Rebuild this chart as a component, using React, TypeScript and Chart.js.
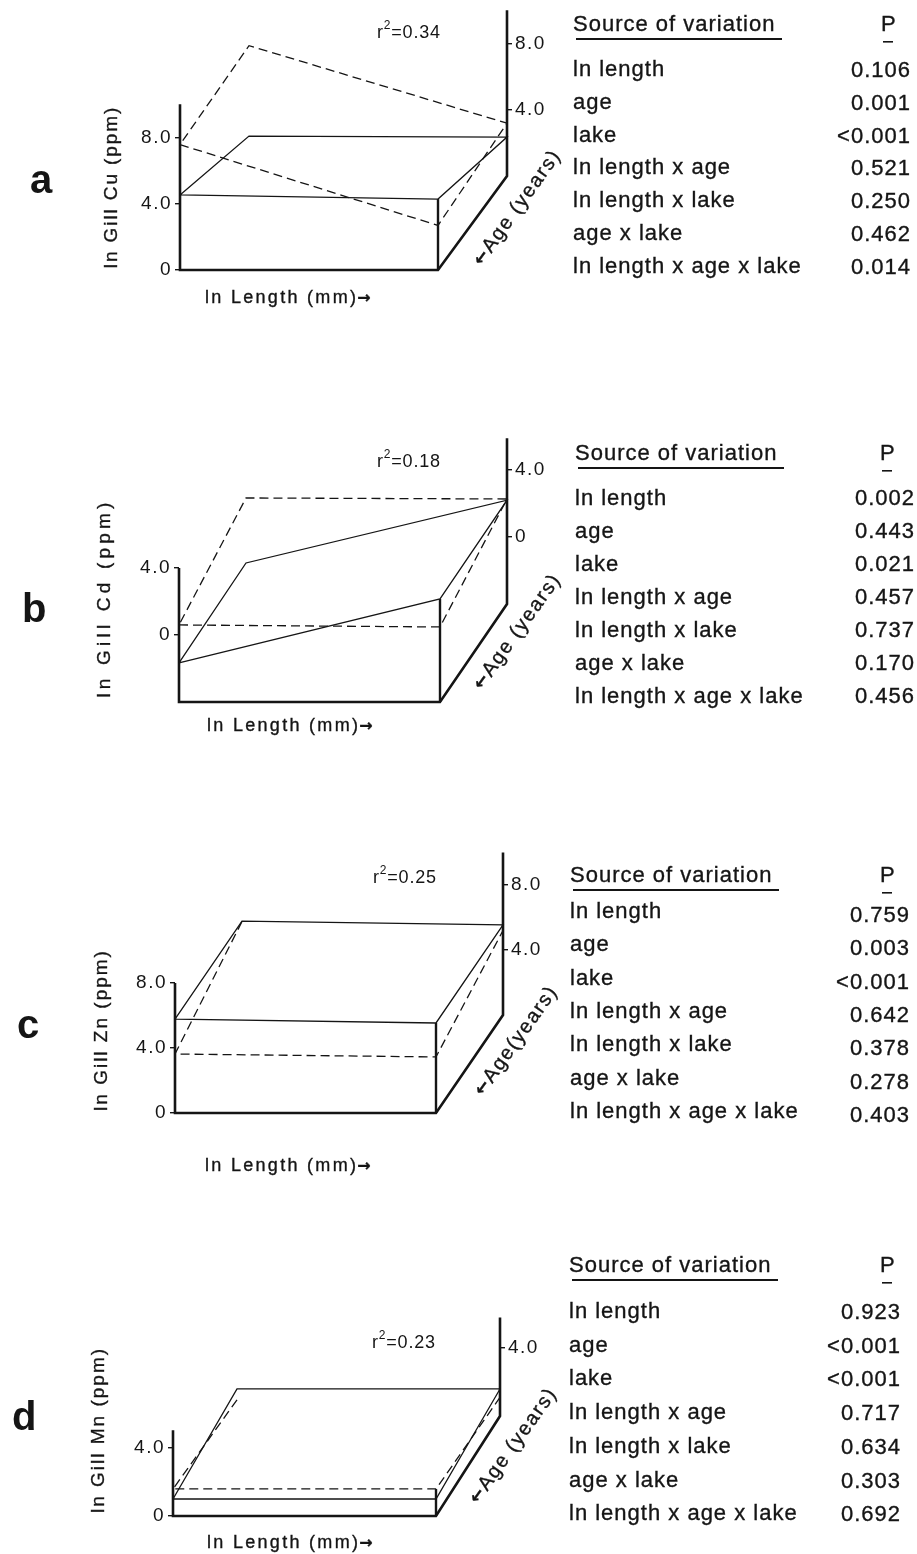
import React, { useEffect, useRef } from 'react';
import { Chart, registerables } from 'chart.js';

Chart.register(...registerables);

// ---------------- data ----------------
const panelLetters = ['a', 'b', 'c', 'd'];
const metalNames = ['Cu', 'Cd', 'Zn', 'Mn'];
const rSquared = ['0.34', '0.18', '0.25', '0.23'];
const frontTicks = [[0, 4, 8], [0, 4], [0, 4, 8], [0, 4]];
const backTicks = [[4, 8], [0, 4], [4, 8], [4]];
const axisMin = [0, -4, 0, 0];
const frontAxisTop = [10.05, 4, 8, 5.05];
const backAxisTop = [10.05, 5.9, 10.0, 5.8];

// plane corner values: [front-left, front-right, back-left, back-right]
const cuLakeSolid = [4.55, 4.3, 2.42, 2.36];
const cuLakeDashed = [7.6, 2.7, 7.9, 3.2];
const cdLakeSolid = [-1.67, 2.15, -1.55, 2.2];
const cdLakeDashed = [0.6, 0.48, 2.33, 2.27];
const znLakeSolid = [5.78, 5.54, 5.78, 5.54];
const znLakeDashed = [3.63, 3.45, 5.75, 5.2];
const mnLakeSolid = [1.0, 1.0, 1.59, 1.59];
const mnLakeDashed = [1.59, 1.59, 0.95, 1.1];

const solidPlanes = [cuLakeSolid, cdLakeSolid, znLakeSolid, mnLakeSolid];
const dashedPlanes = [cuLakeDashed, cdLakeDashed, znLakeDashed, mnLakeDashed];
const dashedBackEdgeShown = [true, true, false, false];

const sourceLabels = [
  'ln length',
  'age',
  'lake',
  'ln length x age',
  'ln length x lake',
  'age x lake',
  'ln length x age x lake',
];
const pCu = ['0.106', '0.001', '<0.001', '0.521', '0.250', '0.462', '0.014'];
const pCd = ['0.002', '0.443', '0.021', '0.457', '0.737', '0.170', '0.456'];
const pZn = ['0.759', '0.003', '<0.001', '0.642', '0.378', '0.278', '0.403'];
const pMn = ['0.923', '<0.001', '<0.001', '0.717', '0.634', '0.303', '0.692'];
const pValues = [pCu, pCd, pZn, pMn];

// ---------------- layout ----------------
const FONT = "'Liberation Sans', Arial, Helvetica, sans-serif";
const ARROW_FONT = "'DejaVu Sans', 'Liberation Sans', sans-serif";
const INK = '#151515';

const GEOM = [
  { fl: 180, fr: 438, br: 507, zeroY: 270, unit: 16.5, depth: 94 },
  { fl: 179, fr: 440, br: 507, zeroY: 635, unit: 16.75, depth: 98 },
  { fl: 175, fr: 436, br: 503, zeroY: 1113, unit: 16.25, depth: 98 },
  { fl: 173, fr: 436, br: 500, zeroY: 1516, unit: 17, depth: 100 },
];

const TXT = [
  { letter: [30, 193], yTitle: [110, 187, 1.9], xTitle: [205, 303], age: [516, 207], ageSp: true, r2: [377, 38],
    tbl: { left: 573, right: 911, head: 31, row0: 76, pitch: 32.8, pX: 881, vdy: 1 } },
  { letter: [22, 622], yTitle: [103.5, 598, 4.2], xTitle: [207, 731], age: [516, 631], ageSp: true, r2: [377, 467],
    tbl: { left: 575, right: 915, head: 460, row0: 505, pitch: 33, pX: 880, vdy: 0 } },
  { letter: [17, 1038], yTitle: [100, 1030, 2.0], xTitle: [205, 1171], age: [515, 1040], ageSp: false, r2: [373, 883],
    tbl: { left: 570, right: 910, head: 882, row0: 918, pitch: 33.3, pX: 880, vdy: 4 } },
  { letter: [12, 1430], yTitle: [97.5, 1430, 2.0], xTitle: [207, 1548], age: [512, 1445], ageSp: true, r2: [372, 1348],
    tbl: { left: 569, right: 901, head: 1272, row0: 1318, pitch: 33.7, pX: 880, vdy: 1 } },
];

const CANVAS_W = 600;
const AXIS_W = 60;

const spacingPlugin = {
  id: 'tickSpacing',
  beforeDraw(chart: any) {
    chart.ctx.letterSpacing = '1.5px';
  },
  afterDraw(chart: any) {
    chart.ctx.letterSpacing = '0px';
  },
};

function fmtTick(v: number) {
  return v === 0 ? '0' : v.toFixed(1);
}

function Panel({ i }: { i: number }) {
  const ref = useRef<HTMLCanvasElement | null>(null);
  const g = GEOM[i];
  const D = g.depth / g.unit;
  const K = (g.br - g.fr) / (g.fr - g.fl);
  const yMin = axisMin[i];
  const yMax = backAxisTop[i] + D;
  const chartTop = g.zeroY - yMax * g.unit;
  const chartBottom = g.zeroY - yMin * g.unit;
  const canvasTop = Math.floor(chartTop - 30);
  const canvasH = Math.ceil(chartBottom + 30) - canvasTop;

  useEffect(() => {
    const canvas = ref.current;
    if (!canvas) return;
    const P = (L: number, A: number, V: number) => ({ x: L + A * K, y: V + A * D });
    const s = solidPlanes[i];
    const d = dashedPlanes[i];
    const frontRightTop = Math.max(s[1], d[1]);
    const boxMain = [
      P(0, 0, frontAxisTop[i]),
      P(0, 0, yMin),
      P(1, 0, yMin),
      P(1, 1, yMin),
      P(1, 1, backAxisTop[i]),
    ];
    const boxEdge = [P(1, 0, yMin), P(1, 0, frontRightTop)];
    const quad = (c: number[]) => [P(0, 0, c[0]), P(1, 0, c[1]), P(1, 1, c[3]), P(0, 1, c[2]), P(0, 0, c[0])];
    const openQuad = (c: number[]) => [P(0, 1, c[2]), P(0, 0, c[0]), P(1, 0, c[1]), P(1, 1, c[3])];

    const lineDs = (data: any[], width: number, dash: number[] = []) => ({
      data,
      showLine: true,
      borderColor: INK,
      backgroundColor: INK,
      borderWidth: width,
      borderDash: dash,
      pointRadius: 0,
      pointHoverRadius: 0,
      fill: false,
      tension: 0,
      clip: false as any,
      borderJoinStyle: 'miter' as const,
    });

    const tickFont = { family: FONT, size: 19 };

    const chart = new Chart(canvas, {
      type: 'scatter',
      data: {
        datasets: [
          lineDs(quad(s), 1.3),
          lineDs(dashedBackEdgeShown[i] ? quad(d) : openQuad(d), 1.3, [9, 5]),
          lineDs(boxMain, 2.6),
          lineDs(boxEdge, 2.4),
        ] as any,
      },
      options: {
        responsive: false,
        animation: false,
        events: [],
        layout: {
          padding: {
            top: chartTop - canvasTop,
            bottom: canvasTop + canvasH - chartBottom,
            left: g.fl - AXIS_W,
            right: CANVAS_W - g.br - AXIS_W,
          },
        },
        plugins: {
          legend: { display: false },
          tooltip: { enabled: false },
          title: { display: false },
        },
        scales: {
          x: { type: 'linear', display: false, min: 0, max: 1 + K },
          y: {
            type: 'linear',
            position: 'left',
            min: yMin,
            max: yMax,
            afterBuildTicks: (axis: any) => {
              axis.ticks = frontTicks[i].map((v) => ({ value: v }));
            },
            afterFit: (axis: any) => {
              axis.width = AXIS_W;
            },
            ticks: {
              autoSkip: false,
              padding: 3,
              color: INK,
              font: tickFont,
              callback: (v: any) => fmtTick(Number(v)),
            },
            grid: { drawOnChartArea: false, drawTicks: true, tickLength: 5, color: INK, lineWidth: 1.4 },
            border: { display: false },
          },
          y2: {
            type: 'linear',
            position: 'right',
            min: yMin - D,
            max: backAxisTop[i],
            afterBuildTicks: (axis: any) => {
              axis.ticks = backTicks[i].map((v) => ({ value: v }));
            },
            afterFit: (axis: any) => {
              axis.width = AXIS_W;
            },
            ticks: {
              autoSkip: false,
              padding: 3,
              color: INK,
              font: tickFont,
              callback: (v: any) => fmtTick(Number(v)),
            },
            grid: { drawOnChartArea: false, drawTicks: true, tickLength: 5, color: INK, lineWidth: 1.4 },
            border: { display: false },
          },
        } as any,
      },
      plugins: [spacingPlugin],
    });
    return () => chart.destroy();
  }, []);

  return (
    <canvas
      ref={ref}
      width={CANVAS_W}
      height={canvasH}
      style={{ position: 'absolute', left: 0, top: canvasTop, width: CANVAS_W, height: canvasH }}
    />
  );
}

function PanelTexts({ i }: { i: number }) {
  const t = TXT[i];
  const tb = t.tbl;
  const inkStroke = { stroke: INK, strokeWidth: 0.35 };
  return (
    <g fill={INK} fontFamily={FONT}>
      <text x={t.letter[0]} y={t.letter[1]} fontSize={40} fontWeight="bold">
        {panelLetters[i]}
      </text>
      <text
        transform={`translate(${t.yTitle[0]},${t.yTitle[1]}) rotate(-90)`}
        textAnchor="middle"
        dominantBaseline="central"
        fontSize={19}
        letterSpacing={t.yTitle[2]}
        {...inkStroke}
      >
        {`ln Gill ${metalNames[i]} (ppm)`}
      </text>
      <text x={t.xTitle[0]} y={t.xTitle[1]} fontSize={18} letterSpacing={2.3} {...inkStroke}>
        {'ln Length (mm)'}
        <tspan fontFamily={ARROW_FONT} fontWeight="bold" fontSize={16} dx={-1}>
          {'\u2192'}
        </tspan>
      </text>
      <text
        transform={`translate(${t.age[0]},${t.age[1]}) rotate(-54.5)`}
        textAnchor="middle"
        dominantBaseline="central"
        fontSize={20}
        letterSpacing={1.6}
        {...inkStroke}
      >
        <tspan fontFamily={ARROW_FONT} fontWeight="bold" fontSize={17}>
          {'\u2190'}
        </tspan>
        {t.ageSp ? 'Age (years)' : 'Age(years)'}
      </text>
      <text x={t.r2[0]} y={t.r2[1]} fontSize={18} letterSpacing={0.8}>
        r
        <tspan dy={-9} fontSize={12}>
          2
        </tspan>
        <tspan dy={9}>{`=${rSquared[i]}`}</tspan>
      </text>
      <text x={tb.left} y={tb.head} fontSize={22} letterSpacing={1} {...inkStroke}>
        Source of variation
      </text>
      <rect x={tb.left + 3} y={tb.head + 7} width={206} height={2} />
      <text x={tb.pX} y={tb.head} fontSize={22} {...inkStroke}>
        P
      </text>
      <rect x={tb.pX + 2} y={tb.head + 10} width={10} height={1.6} />
      {sourceLabels.map((lab, k) => (
        <text key={'l' + k} x={tb.left} y={tb.row0 + k * tb.pitch} fontSize={22} letterSpacing={1} {...inkStroke}>
          {lab}
        </text>
      ))}
      {pValues[i].map((v, k) => (
        <text
          key={'v' + k}
          x={tb.right}
          y={tb.row0 + k * tb.pitch + tb.vdy}
          fontSize={22}
          letterSpacing={1}
          textAnchor="end"
          {...inkStroke}
        >
          {v}
        </text>
      ))}
    </g>
  );
}

export default function App() {
  useEffect(() => {
    document.body.style.margin = '0';
  }, []);
  return (
    <div
      style={{
        position: 'absolute',
        left: 0,
        top: 0,
        width: 917,
        height: 1554,
        overflow: 'hidden',
        background: '#ffffff',
      }}
    >
      {[0, 1, 2, 3].map((i) => (
        <Panel key={i} i={i} />
      ))}
      <svg
        width={917}
        height={1554}
        style={{ position: 'absolute', left: 0, top: 0, pointerEvents: 'none' }}
      >
        {[0, 1, 2, 3].map((i) => (
          <PanelTexts key={i} i={i} />
        ))}
      </svg>
    </div>
  );
}
